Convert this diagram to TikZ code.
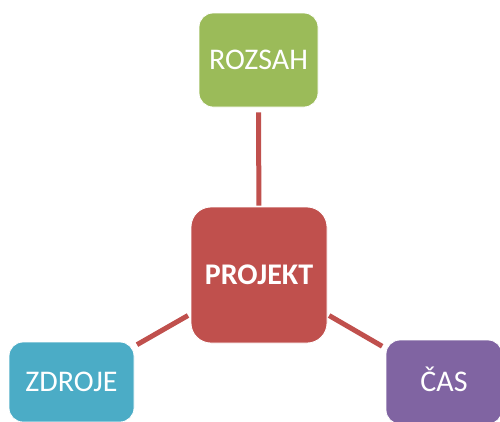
\documentclass[tikz,border=0pt]{standalone}
\usepackage{fontspec}
\setmainfont{Carlito}
\definecolor{projred}{HTML}{C0504D}
\definecolor{scopegreen}{HTML}{9BBB59}
\definecolor{resblue}{HTML}{4BACC6}
\definecolor{timepurple}{HTML}{8064A2}
\tikzset{
  box/.style={draw=white, line width=0.8pt, rounded corners=14pt, inner sep=0pt,
    text=white, text height=19pt, text depth=0pt,
    font=\fontsize{30}{36}\selectfont},
  conn/.style={draw=projred, line width=5pt}
}
\begin{document}
\begin{tikzpicture}[x=1pt,y=-1pt]
  \useasboundingbox (0,0) rectangle (500,421);
  \clip (0,0) rectangle (500,421);
  % central project box and the three constraints
  \node[box, fill=projred, rounded corners=20pt, minimum width=136pt, minimum height=136pt,
        font=\fontsize{30}{36}\selectfont\bfseries] (projekt) at (259,275) {PROJEKT};
  \node[box, fill=scopegreen, minimum width=119pt, minimum height=94pt] (rozsah) at (258.5,60) {ROZSAH};
  \node[box, fill=resblue, minimum width=125pt, minimum height=80pt] (zdroje) at (71.5,382) {ZDROJE};
  \node[box, fill=timepurple, minimum width=116pt, minimum height=84pt] (cas) at (444,382) {ČAS};
  % connectors
  \draw[conn, shorten <=1pt, shorten >=5pt] (projekt) -- (rozsah);
  \draw[conn, shorten <=3pt, shorten >=3pt] (projekt) -- (zdroje);
  \draw[conn, shorten <=2pt, shorten >=4pt] (projekt) -- (cas);
\end{tikzpicture}
\end{document}
